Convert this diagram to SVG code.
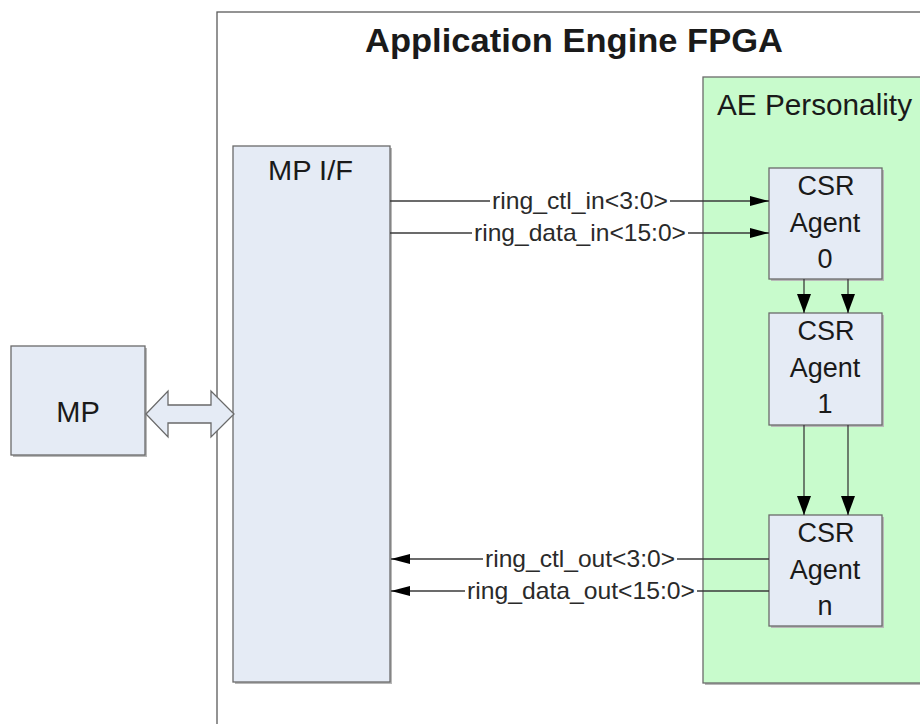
<svg xmlns="http://www.w3.org/2000/svg" width="920" height="724" viewBox="0 0 920 724">
  <style>
    .box { fill: #e5ebf5; stroke: #6a6a6a; stroke-width: 1.3; }
    .pers { fill: #c8fbcc; stroke: #6a6a6a; stroke-width: 1.3; }
    .frame { fill: #ffffff; stroke: #5a5a5a; stroke-width: 1.3; }
    .shadow { fill: #b8b8b8; }
    .lbl { font-family: "Liberation Sans", Arial, sans-serif; fill: #1a1a1a; }
    .wire { stroke: #3a3a3a; stroke-width: 1.3; fill: none; }
    .sig { font-family: "Liberation Sans", Arial, sans-serif; font-size: 24px; fill: #2a2a2a; }
  </style>
  <defs>
    <marker id="ah" viewBox="0 0 19 10" refX="19" refY="5" markerWidth="19" markerHeight="10" markerUnits="userSpaceOnUse" orient="auto">
      <path d="M0,0 L19,5 L0,10 Z" fill="#000"/>
    </marker>
    <marker id="ahv" viewBox="0 0 19 14" refX="19" refY="7" markerWidth="19" markerHeight="14" markerUnits="userSpaceOnUse" orient="auto">
      <path d="M0,0 L19,7 L0,14 Z" fill="#000"/>
    </marker>
  </defs>

  <rect width="920" height="724" fill="#ffffff"/>

  <!-- FPGA frame -->
  <g id="fpga">
    <rect class="frame" x="217" y="12" width="720" height="730"/>
    <text class="lbl" x="574" y="52" font-size="34" font-weight="bold" text-anchor="middle" textLength="418" lengthAdjust="spacingAndGlyphs">Application Engine FPGA</text>
  </g>

  <!-- MP -->
  <g id="mp">
    <rect class="shadow" x="13" y="348" width="134" height="109"/>
    <rect class="box" x="11" y="346" width="134" height="109"/>
    <text class="lbl" x="78" y="422" font-size="29" text-anchor="middle">MP</text>
  </g>

  <!-- MP interface -->
  <g id="mpif">
    <rect class="shadow" x="235" y="148" width="157" height="536"/>
    <rect class="box" x="233" y="146" width="157" height="536"/>
    <text class="lbl" x="268" y="180" font-size="28" textLength="85" lengthAdjust="spacingAndGlyphs">MP I/F</text>
  </g>

  <!-- AE personality -->
  <g id="personality">
    <rect class="shadow" x="705" y="79" width="240" height="606"/>
    <rect class="pers" x="703" y="77" width="240" height="606"/>
    <text class="lbl" x="717" y="115" font-size="29" textLength="195" lengthAdjust="spacingAndGlyphs">AE Personality</text>
  </g>

  <!-- CSR agents -->
  <g id="agent0">
    <rect class="shadow" x="771" y="170" width="113" height="111"/>
    <rect class="box" x="769" y="168" width="113" height="111"/>
    <text class="lbl" font-size="27" text-anchor="middle"><tspan x="826" y="195">CSR</tspan><tspan x="825" y="232">Agent</tspan><tspan x="825" y="268">0</tspan></text>
  </g>
  <g id="agent1">
    <rect class="shadow" x="771" y="315" width="113" height="112"/>
    <rect class="box" x="769" y="313" width="113" height="112"/>
    <text class="lbl" font-size="27" text-anchor="middle"><tspan x="826" y="340">CSR</tspan><tspan x="825" y="377">Agent</tspan><tspan x="825" y="413">1</tspan></text>
  </g>
  <g id="agentn">
    <rect class="shadow" x="771" y="517" width="113" height="111"/>
    <rect class="box" x="769" y="515" width="113" height="111"/>
    <text class="lbl" font-size="27" text-anchor="middle"><tspan x="826" y="542">CSR</tspan><tspan x="825" y="579">Agent</tspan><tspan x="825" y="615">n</tspan></text>
  </g>

  <!-- connectors -->
  <g id="connectors">
    <!-- MP <-> MP I/F bus -->
    <polygon points="146,414 168,391 168,405 211,405 211,391 234,414 211,437 211,423 168,423 168,437" fill="#e5ebf5" stroke="#6a6a6a" stroke-width="1.3"/>

    <!-- ring inputs -->
    <line class="wire" x1="390" y1="201" x2="490" y2="201"/>
    <line class="wire" x1="670" y1="201" x2="769" y2="201" marker-end="url(#ah)"/>
    <text class="sig" x="492" y="209" textLength="176" lengthAdjust="spacingAndGlyphs">ring_ctl_in&lt;3:0&gt;</text>

    <line class="wire" x1="390" y1="233" x2="472" y2="233"/>
    <line class="wire" x1="688" y1="233" x2="769" y2="233" marker-end="url(#ah)"/>
    <text class="sig" x="474" y="241" textLength="212" lengthAdjust="spacingAndGlyphs">ring_data_in&lt;15:0&gt;</text>

    <!-- ring outputs -->
    <line class="wire" x1="769" y1="559" x2="677" y2="559"/>
    <line class="wire" x1="483" y1="559" x2="391" y2="559" marker-end="url(#ah)"/>
    <text class="sig" x="485" y="567" textLength="190" lengthAdjust="spacingAndGlyphs">ring_ctl_out&lt;3:0&gt;</text>

    <line class="wire" x1="769" y1="591" x2="697" y2="591"/>
    <line class="wire" x1="465" y1="591" x2="391" y2="591" marker-end="url(#ah)"/>
    <text class="sig" x="467" y="599" textLength="228" lengthAdjust="spacingAndGlyphs">ring_data_out&lt;15:0&gt;</text>

    <!-- agent chain -->
    <line class="wire" x1="804" y1="279" x2="804" y2="313" marker-end="url(#ahv)"/>
    <line class="wire" x1="848" y1="279" x2="848" y2="313" marker-end="url(#ahv)"/>
    <line class="wire" x1="804" y1="425" x2="804" y2="515" marker-end="url(#ahv)"/>
    <line class="wire" x1="848" y1="425" x2="848" y2="515" marker-end="url(#ahv)"/>
  </g>
</svg>
